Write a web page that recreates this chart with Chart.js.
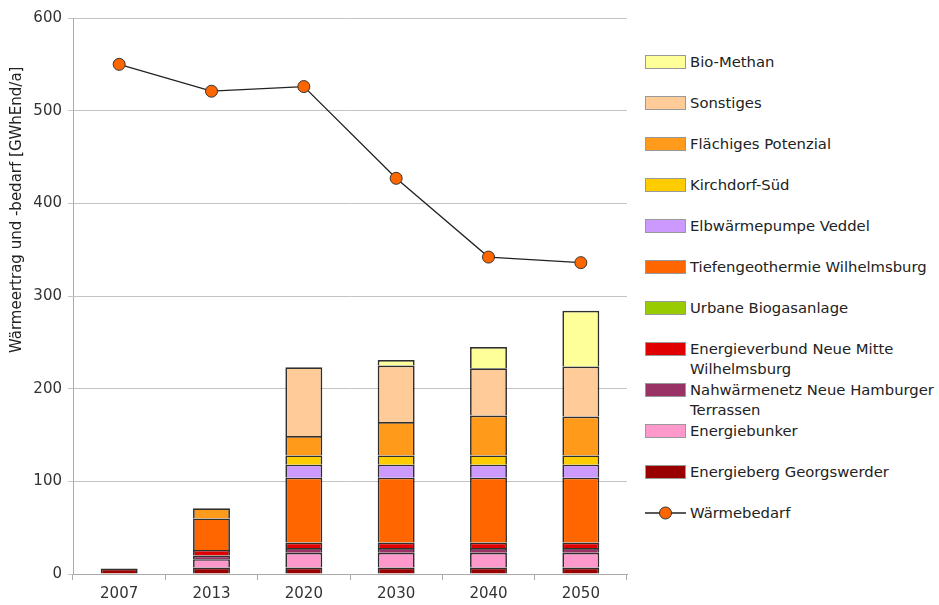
<!DOCTYPE html>
<html>
<head>
<meta charset="utf-8">
<script src="https://cdn.jsdelivr.net/npm/chart.js@4/dist/chart.umd.min.js"></script>
<style>
    body { margin: 0; background: #fff; font-family: "DejaVu Sans", sans-serif; }
    #wrap { position: absolute; left: 0; top: 0; width: 637px; height: 605px; }
    #legend { position: absolute; left: 645px; top: 0; }
    .item { position: absolute; left: 0; width: 294px; font-size: 14.8px; line-height: 20px; color: #222; white-space: nowrap; }
    .box { position: absolute; left: 0; top: 3px; width: 39px; height: 12px; border: 1px solid #999; }
    .txt { position: absolute; left: 45px; top: 0; }
</style>
</head>
<body>
<div id="wrap"><canvas id="chart"></canvas></div>
<div id="legend"></div>
<script>
// Data
const years = ['2007', '2013', '2020', '2030', '2040', '2050'];
const energieberg = [6, 7, 7, 7, 7, 7];
const energiebunker = [0, 9, 16, 16, 16, 16];
const nahwaerme = [0, 4, 5, 5, 5, 5];
const energieverbund = [0, 6, 6, 6, 6, 6];
const biogas = [0, 0, 0, 0, 0, 0];
const tiefengeo = [0, 34, 70, 70, 70, 70];
const elbwaerme = [0, 0, 14, 14, 14, 14];
const kirchdorf = [0, 0, 10, 10, 10, 10];
const flaechig = [0, 11, 21, 36, 43, 42];
const sonstiges = [0, 0, 74, 61, 51, 54];
const bioMethan = [0, 0, 0, 6, 23, 60];
const waermebedarf = [550, 521, 526, 427, 342, 336];
const yTicks = [0, 100, 200, 300, 400, 500, 600];
const yTitle = 'Wärmeertrag und -bedarf [GWhEnd/a]';

// bottom to top
const barSeries = [
    { label: 'Energieberg Georgswerder', data: energieberg, color: '#990000' },
    { label: 'Energiebunker', data: energiebunker, color: '#ff99cc' },
    { label: 'Nahwärmenetz Neue Hamburger<br>Terrassen', data: nahwaerme, color: '#993366' },
    { label: 'Energieverbund Neue Mitte<br>Wilhelmsburg', data: energieverbund, color: '#e00000' },
    { label: 'Urbane Biogasanlage', data: biogas, color: '#99cc00' },
    { label: 'Tiefengeothermie Wilhelmsburg', data: tiefengeo, color: '#ff6600' },
    { label: 'Elbwärmepumpe Veddel', data: elbwaerme, color: '#cc99ff' },
    { label: 'Kirchdorf-Süd', data: kirchdorf, color: '#ffcc00' },
    { label: 'Flächiges Potenzial', data: flaechig, color: '#ff9a1a' },
    { label: 'Sonstiges', data: sonstiges, color: '#ffcc99' },
    { label: 'Bio-Methan', data: bioMethan, color: '#ffff99' }
];

const datasets = barSeries.map(s => ({
    type: 'bar',
    label: s.label.replace('<br>', ' '),
    data: s.data,
    backgroundColor: s.color,
    borderColor: 'rgba(10, 10, 10, 0.85)',
    borderWidth: 1.7,
    stack: 'supply',
    order: 1,
    categoryPercentage: 1,
    barPercentage: 0.4
}));

datasets.push({
    type: 'line',
    label: 'Wärmebedarf',
    data: waermebedarf,
    borderColor: '#222',
    borderWidth: 1.3,
    pointRadius: 6,
    pointBackgroundColor: '#ff6600',
    pointBorderColor: '#333',
    pointBorderWidth: 1,
    tension: 0,
    stack: 'demand',
    order: 0
});

// rotated y title, drawn a bit above the middle like the original
const yTitlePlugin = {
    id: 'yTitle',
    afterDraw(chart) {
        const ctx = chart.ctx;
        const area = chart.chartArea;
        ctx.save();
        ctx.translate(17, area.top + area.height * 0.345);
        ctx.rotate(-Math.PI / 2);
        ctx.font = '15px "DejaVu Sans"';
        ctx.fillStyle = '#222';
        ctx.textAlign = 'center';
        ctx.textBaseline = 'middle';
        ctx.fillText(yTitle, 0, 0);
        ctx.restore();
    }
};

new Chart(document.getElementById('chart'), {
    data: { labels: years, datasets: datasets },
    plugins: [yTitlePlugin],
    options: {
        responsive: true,
        maintainAspectRatio: false,
        animation: false,
        layout: { padding: { top: 18, right: 10, left: 0, bottom: 0 } },
        plugins: {
            legend: { display: false },
            tooltip: { enabled: false }
        },
        scales: {
            x: {
                stacked: true,
                grid: {
                    offset: true,
                    drawOnChartArea: false,
                    color: '#aaa',
                    tickLength: 6
                },
                border: { color: '#aaa' },
                ticks: {
                    color: '#333',
                    font: { family: 'DejaVu Sans', size: 15 },
                    padding: 5
                },
                afterFit: scale => { scale.height = 31; }
            },
            y: {
                stacked: true,
                min: 0,
                max: 600,
                afterBuildTicks: scale => {
                    scale.ticks = yTicks.map(v => ({ value: v }));
                },
                grid: {
                    color: '#c4c4c4',
                    tickLength: 5
                },
                border: { color: '#aaa' },
                ticks: {
                    color: '#333',
                    font: { family: 'DejaVu Sans', size: 15 },
                    padding: 6
                },
                afterFit: scale => { scale.width = 73; }
            }
        }
    }
});

// Legend (top to bottom = reverse stacking order, then the line)
const legendEl = document.getElementById('legend');
const legendItems = barSeries.slice().reverse().concat([{ label: 'Wärmebedarf', line: true }]);
legendItems.forEach((item, i) => {
    const div = document.createElement('div');
    div.className = 'item';
    div.style.top = (52 + 41 * i) + 'px';
    let marker;
    if (item.line) {
        marker = '<svg style="position:absolute;left:0;top:0" width="42" height="20">' +
            '<line x1="0" y1="10" x2="41" y2="10" stroke="#222" stroke-width="1.3"/>' +
            '<circle cx="20.5" cy="10" r="6" fill="#ff6600" stroke="#333" stroke-width="1"/></svg>';
    } else {
        marker = `<div class="box" style="background:${item.color}"></div>`;
    }
    div.innerHTML = marker + `<div class="txt">${item.label}</div>`;
    legendEl.appendChild(div);
});
</script>
</body>
</html>
